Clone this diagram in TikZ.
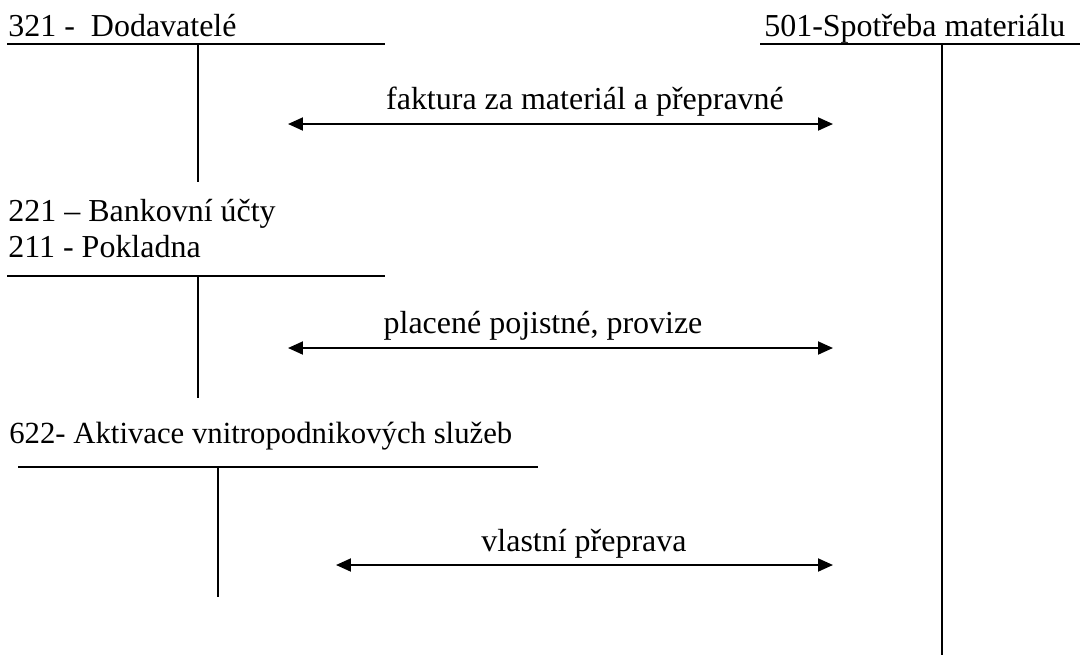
\documentclass[tikz,border=0pt]{standalone}
\usepackage{fontspec}
\setmainfont{Liberation Serif}
\usetikzlibrary{arrows.meta}
\tikzset{
  acct/.style={anchor=base west,inner sep=0pt,font=\fontsize{18.2}{21}\selectfont},
  lbl/.style={anchor=base,inner sep=0pt,font=\fontsize{18.2}{21}\selectfont},
  tline/.style={line width=1.1pt},
  flow/.style={line width=1.1pt,{Triangle[length=0.3cm,width=0.26cm]}-{Triangle[length=0.3cm,width=0.26cm]}}
}
\begin{document}
\begin{tikzpicture}[x=0.02cm,y=-0.02cm]
\useasboundingbox (0,0) rectangle (1080,657);

% 321 - Dodavatele
\node[acct] (dod) at (8,36) {321 -\ \ Dodavatelé};
\draw[tline] (7,44) -- (385,44) (198,44) -- (198,182);

% 501 - Spotreba materialu
\node[acct] (spo) at (764,36) {501-Spotřeba materiálu};
\draw[tline] (760,44) -- (1080,44) (942,44) -- (942,655);

% 221, 211
\node[acct] (ban) at (8,221) {221 – Bankovní účty};
\node[acct] (pok) at (8,257) {211 - Pokladna};
\draw[tline] (7,276) -- (385,276) (198,276) -- (198,398);

% 622
\node[acct,font=\fontsize{17.5}{21}\selectfont] (akt) at (9,443) {622- Aktivace vnitropodnikových služeb};
\draw[tline] (18,467) -- (538,467) (218,467) -- (218,597);

% arrows
\coordinate (f1) at (288,124); \coordinate (t1) at (833,124);
\coordinate (f2) at (288,348); \coordinate (t2) at (833,348);
\coordinate (f3) at (336,565); \coordinate (t3) at (833,565);
\draw[flow] (f1) -- (t1);
\draw[flow] (f2) -- (t2);
\draw[flow] (f3) -- (t3);
\node[lbl] (fak) at (585,109) {faktura za materiál a přepravné};
\node[lbl] (poj) at (543,333) {placené pojistné, provize};
\node[lbl] (vla) at (584,551) {vlastní přeprava};
\end{tikzpicture}
\end{document}
